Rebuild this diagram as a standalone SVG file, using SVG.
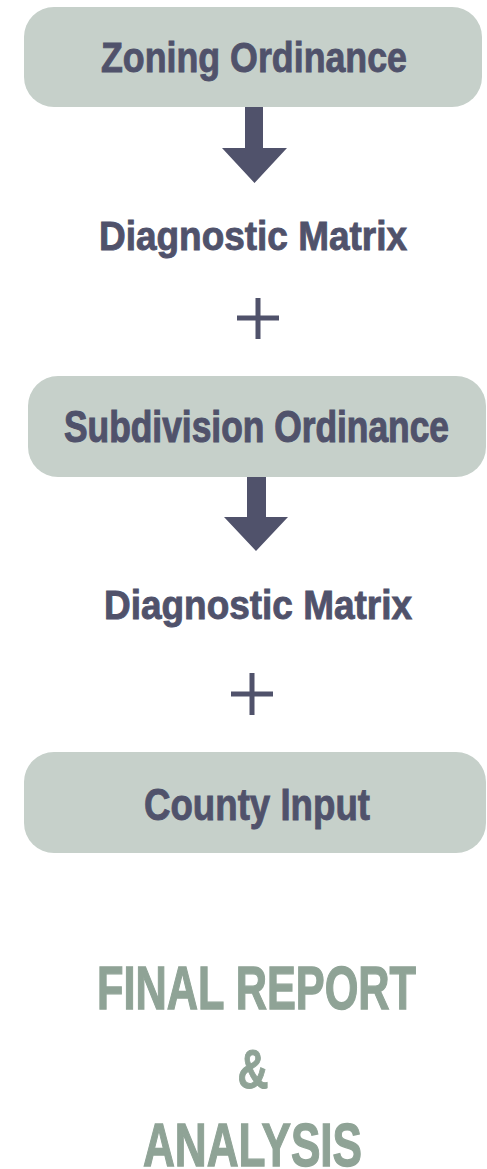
<svg xmlns="http://www.w3.org/2000/svg" width="487" height="1169" viewBox="0 0 487 1169">
  <style>
    .box { fill: #C6D0CA; }
    .t { font-family: "Liberation Sans Narrow", "Liberation Sans", "DejaVu Sans Condensed", sans-serif; font-weight: bold; fill: #50526B; stroke: #50526B; stroke-width: 0.9; text-anchor: middle; }
    .f { font-family: "Liberation Sans Narrow", "Liberation Sans", "DejaVu Sans Condensed", sans-serif; font-weight: bold; fill: #8FA396; stroke: #8FA396; stroke-width: 1; text-anchor: middle; }
    .arrow { fill: #50526B; }
    .plus { stroke: #50526B; stroke-width: 5; fill: none; }
  </style>
  <rect width="487" height="1169" fill="#FFFFFF"/>
  <g id="connectors">
    <polygon class="arrow" points="245,107 263,107 263,148 287,148 254.5,183 222,148 245,148"/>
    <polygon class="arrow" points="247,477 266,477 266,517 288,517 256,551 224,517 247,517"/>
    <path class="plus" d="M237,318 H279 M258,298 V339"/>
    <path class="plus" d="M231,694 H273 M252,673 V715"/>
  </g>
  <g id="zoning">
    <rect class="box" x="24" y="7" width="458" height="100" rx="30"/>
    <text class="t" x="254" y="72" font-size="43" textLength="306" lengthAdjust="spacingAndGlyphs">Zoning Ordinance</text>
  </g>
  <g id="matrix1">
    <text class="t" x="253" y="250" font-size="40" textLength="308" lengthAdjust="spacingAndGlyphs">Diagnostic Matrix</text>
  </g>
  <g id="subdivision">
    <rect class="box" x="28" y="376" width="458" height="101" rx="30"/>
    <text class="t" transform="translate(256.5,442) scale(1,1.222)" x="0" y="0" font-size="36" textLength="385" lengthAdjust="spacingAndGlyphs">Subdivision Ordinance</text>
  </g>
  <g id="matrix2">
    <text class="t" x="258" y="619" font-size="40" textLength="308" lengthAdjust="spacingAndGlyphs">Diagnostic Matrix</text>
  </g>
  <g id="county">
    <rect class="box" x="24" y="752" width="462" height="101" rx="30"/>
    <text class="t" x="257" y="820" font-size="44" textLength="226" lengthAdjust="spacingAndGlyphs">County Input</text>
  </g>
  <g id="final">
    <text class="f" transform="translate(256.5,1009) scale(1,1.348)" x="0" y="0" font-size="46" textLength="319" lengthAdjust="spacingAndGlyphs">FINAL REPORT</text>
    <text class="f" x="253" y="1088" font-size="56" textLength="31" lengthAdjust="spacingAndGlyphs">&amp;</text>
    <text class="f" transform="translate(252.5,1166) scale(1,1.348)" x="0" y="0" font-size="46" textLength="219" lengthAdjust="spacingAndGlyphs">ANALYSIS</text>
  </g>
</svg>
